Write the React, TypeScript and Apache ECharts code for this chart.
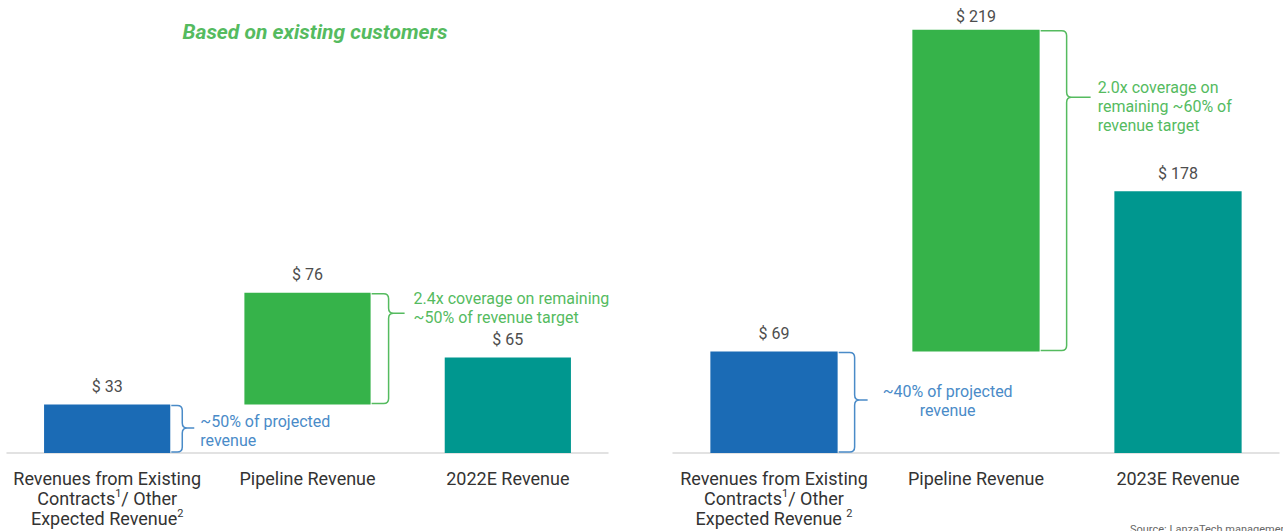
import React, { useEffect, useRef } from "react";
import * as echarts from "echarts";

// ---------- data ----------
const CATEGORIES_2022 = [
  "Revenues from Existing\nContracts{sup|1}/ Other\nExpected Revenue{sup|2}",
  "Pipeline Revenue",
  "2022E Revenue",
];
const CATEGORIES_2023 = [
  "Revenues from Existing\nContracts{sup|1}/ Other\nExpected Revenue {sup|2}",
  "Pipeline Revenue",
  "2023E Revenue",
];
const BASE_2022 = [0, 33, 0];
const VALUES_2022 = [33, 76, 65];
const BASE_2023 = [0, 69, 0];
const VALUES_2023 = [69, 219, 178];
// [category index, low, high, tip value]
const BRACES_2022 = [
  [0, 0, 33, 17],
  [1, 33, 109, 95],
];
const BRACES_2023 = [
  [0, 0, 69, 36],
  [1, 69, 288, 242],
];
const NOTES_2022 = ["~50% of projected\nrevenue", "2.4x coverage on remaining\n~50% of revenue target"];
const NOTES_2023 = ["~40% of projected\nrevenue", "2.0x coverage on\nremaining ~60% of\nrevenue target"];
const TITLE = "Based on existing customers";
const SOURCE = "Source: LanzaTech management";

// ---------- styles ----------
const BLUE = "#1b6bb5";
const GREEN = "#36b34a";
const TEAL = "#00978f";
const BLUE_TXT = "#4a8bc8";
const GREEN_TXT = "#55bb5f";
const BAR_COLORS = [BLUE, GREEN, TEAL];
const BAR_FRAC = 0.63;
const FONT = "Roboto";

// per brace: vertical offset from bar edge, tip offset, text offset, align, text dy, colour
const BRACE_STYLE_2022 = [
  { v: 11, t: 23, tx: 6, align: "left", dy: 3, color: BLUE_TXT },
  { v: 17, t: 33, tx: 9, align: "left", dy: -5, color: GREEN_TXT },
];
const BRACE_STYLE_2023 = [
  { v: 16, t: 29, tx: 80, align: "center", dy: 1, color: BLUE_TXT },
  { v: 26, t: 50, tx: 7, align: "left", dy: 9, color: GREEN_TXT },
];

function braceRenderer(styles: any[], notes: string[]) {
  return (params: any, api: any) => {
    const i = params.dataIndex;
    const st = styles[i];
    const cat = api.value(0);
    const top = api.coord([cat, api.value(2)]);
    const bot = api.coord([cat, api.value(1)]);
    const tip = api.coord([cat, api.value(3)]);
    const bw = api.size([1, 0])[0] * BAR_FRAC;
    const x0 = top[0] + bw / 2 + 1;
    const xv = x0 + st.v;
    const xt = x0 + st.t;
    const yT = top[1] + 1;
    const yB = bot[1] - 1;
    const yM = tip[1];
    const r = 5;
    const d =
      `M${x0} ${yT} L${xv - r} ${yT} Q${xv} ${yT} ${xv} ${yT + r} L${xv} ${yM - r} ` +
      `Q${xv} ${yM} ${xv + r} ${yM} L${xt} ${yM} M${xv + r} ${yM} Q${xv} ${yM} ${xv} ${yM + r} ` +
      `L${xv} ${yB - r} Q${xv} ${yB} ${xv - r} ${yB} L${x0} ${yB}`;
    return {
      type: "group",
      children: [
        {
          type: "path",
          shape: { pathData: d },
          style: { stroke: st.color, fill: "none", lineWidth: 1.5 },
        },
        {
          type: "text",
          x: xt + st.tx,
          y: yM + st.dy,
          style: {
            text: notes[i],
            fill: st.color,
            fontSize: 16,
            fontFamily: FONT,
            lineHeight: 19,
            align: st.align,
            verticalAlign: "middle",
          },
        },
      ],
    };
  };
}

function barSeries(idx: number, base: number[], values: number[]) {
  return [
    {
      type: "bar",
      stack: "s" + idx,
      xAxisIndex: idx,
      yAxisIndex: idx,
      barWidth: BAR_FRAC * 100 + "%",
      itemStyle: { color: "transparent" },
      silent: true,
      data: base,
    },
    {
      type: "bar",
      stack: "s" + idx,
      xAxisIndex: idx,
      yAxisIndex: idx,
      barWidth: BAR_FRAC * 100 + "%",
      data: values.map((v, i) => ({
        value: v,
        itemStyle: { color: BAR_COLORS[i] },
        label: i === 1 && v > 200 ? { distance: 5 } : undefined,
      })),
      label: {
        show: true,
        position: "top",
        distance: 10,
        formatter: (p: any) => "$ " + p.value,
        color: "#4d4d4d",
        fontSize: 16,
        fontFamily: FONT,
      },
    },
  ];
}

const axisLabel = {
  color: "#333",
  fontSize: 18,
  fontFamily: FONT,
  lineHeight: 20,
  margin: 15,
  interval: 0,
  rich: {
    sup: { fontSize: 11, verticalAlign: "top", lineHeight: 14, color: "#333", fontFamily: FONT },
  },
};

export default function App() {
  const ref = useRef<HTMLDivElement>(null);
  useEffect(() => {
    const chart = echarts.init(ref.current!, undefined, { renderer: "svg" });
    chart.setOption({
      animation: false,
      backgroundColor: "#ffffff",
      title: {
        text: TITLE,
        left: 310,
        top: 16,
        textAlign: "center",
        textStyle: {
          color: GREEN_TXT,
          fontSize: 21,
          fontStyle: "italic",
          fontWeight: "bold",
          fontFamily: FONT,
        },
      },
      grid: [
        { left: 7, width: 601, top: 12, height: 441 },
        { left: 673, width: 606, top: 12, height: 441 },
      ],
      xAxis: [0, 1].map((i) => ({
        type: "category",
        gridIndex: i,
        data: i === 0 ? CATEGORIES_2022 : CATEGORIES_2023,
        axisLine: { lineStyle: { color: "#d9d9d9", width: 1.5 } },
        axisTick: { show: false },
        axisLabel,
      })),
      yAxis: [0, 1].map((i) => ({
        type: "value",
        gridIndex: i,
        min: 0,
        max: 300,
        show: false,
        splitLine: { show: false },
      })),
      series: [
        ...barSeries(0, BASE_2022, VALUES_2022),
        ...barSeries(1, BASE_2023, VALUES_2023),
        {
          type: "custom",
          xAxisIndex: 0,
          yAxisIndex: 0,
          silent: true,
          encode: { x: 0, y: [1, 2] },
          renderItem: braceRenderer(BRACE_STYLE_2022, NOTES_2022),
          data: BRACES_2022,
          z: 5,
        },
        {
          type: "custom",
          xAxisIndex: 1,
          yAxisIndex: 1,
          silent: true,
          encode: { x: 0, y: [1, 2] },
          renderItem: braceRenderer(BRACE_STYLE_2023, NOTES_2023),
          data: BRACES_2023,
          z: 5,
        },
      ],
      graphic: [
        {
          type: "text",
          left: 1130,
          top: 524,
          style: { text: SOURCE, fill: "#666", fontSize: 11, fontFamily: FONT },
        },
      ],
    });
    return () => chart.dispose();
  }, []);
  return (
    <div
      ref={ref}
      style={{ position: "absolute", left: 0, top: 0, width: 1283, height: 531 }}
    />
  );
}
